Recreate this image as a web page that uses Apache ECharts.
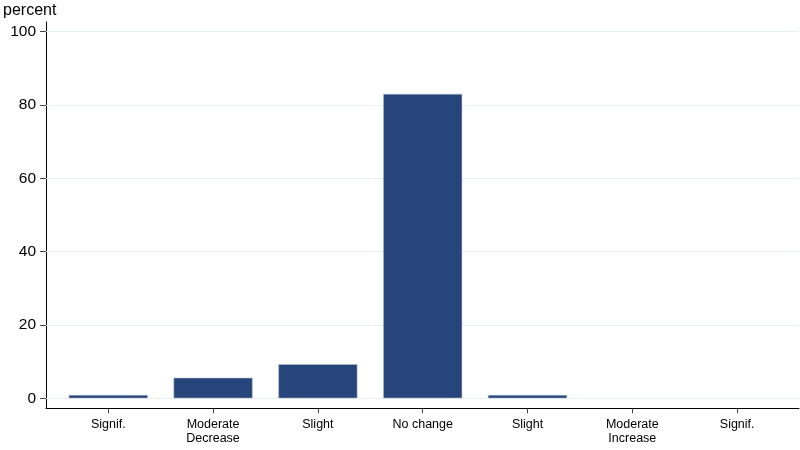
<!DOCTYPE html>
<html>
<head>
<meta charset="utf-8">
<script src="https://cdn.jsdelivr.net/npm/echarts@6/dist/echarts.min.js"></script>
<style>
html,body{margin:0;padding:0;background:#fff;}
#chart{width:800px;height:450px;}
</style>
</head>
<body>
<div id="chart"></div>
<script>
const categories = ['Signif.', 'Moderate\nDecrease', 'Slight', 'No change', 'Slight', 'Moderate\nIncrease', 'Signif.'];
const percentValues = [0.9, 5.6, 9.3, 83.0, 0.9, 0, 0];
const yTicks = [0, 20, 40, 60, 80, 100];
const xPositions = categories.map((c, i) => i);

const chart = echarts.init(document.getElementById('chart'), null, {renderer: 'canvas'});
const font = 'Liberation Sans, Arial, sans-serif';
chart.setOption({
  animation: false,
  backgroundColor: '#ffffff',
  title: {
    text: 'percent',
    left: 3, top: 3, padding: 0,
    textStyle: {fontFamily: font, fontSize: 16, fontWeight: 'normal', color: '#000'}
  },
  grid: {left: 46, right: 1, top: 22, bottom: 41.7, containLabel: false},
  xAxis: {
    type: 'value',
    min: -0.594, max: 6.59,
    splitLine: {show: false},
    axisLine: {show: true, onZero: false, lineStyle: {color: '#000', width: 1}},
    axisTick: {show: true, customValues: xPositions, length: 5, lineStyle: {color: '#444'}},
    axisLabel: {
      customValues: xPositions,
      formatter: v => categories[Math.round(v)],
      fontFamily: font, fontSize: 12.5, color: '#000', margin: 9, lineHeight: 14
    }
  },
  yAxis: {
    type: 'value',
    min: -2.72, max: 102.6,
    splitLine: {show: false},
    axisLine: {show: true, onZero: false, lineStyle: {color: '#000', width: 1}},
    axisTick: {show: true, customValues: yTicks, length: 6, lineStyle: {color: '#444'}},
    axisLabel: {customValues: yTicks, fontFamily: font, fontSize: 15.5, color: '#000', margin: 10}
  },
  series: [{
    type: 'bar',
    barWidth: 79,
    data: percentValues.map((v, i) => ({
      value: [xPositions[i], v],
      itemStyle: {borderWidth: v > 0 ? 0.5 : 0, opacity: v > 0 ? 1 : 0}
    })),
    itemStyle: {color: '#26457a', borderColor: '#b9c2d3', borderWidth: 0.5},
    markLine: {
      z: 1,
      silent: true,
      symbol: 'none',
      label: {show: false},
      lineStyle: {color: '#e8eff2', width: 1.2, type: 'solid'},
      data: yTicks.map(t => ({yAxis: t}))
    }
  }]
});
</script>
</body>
</html>
